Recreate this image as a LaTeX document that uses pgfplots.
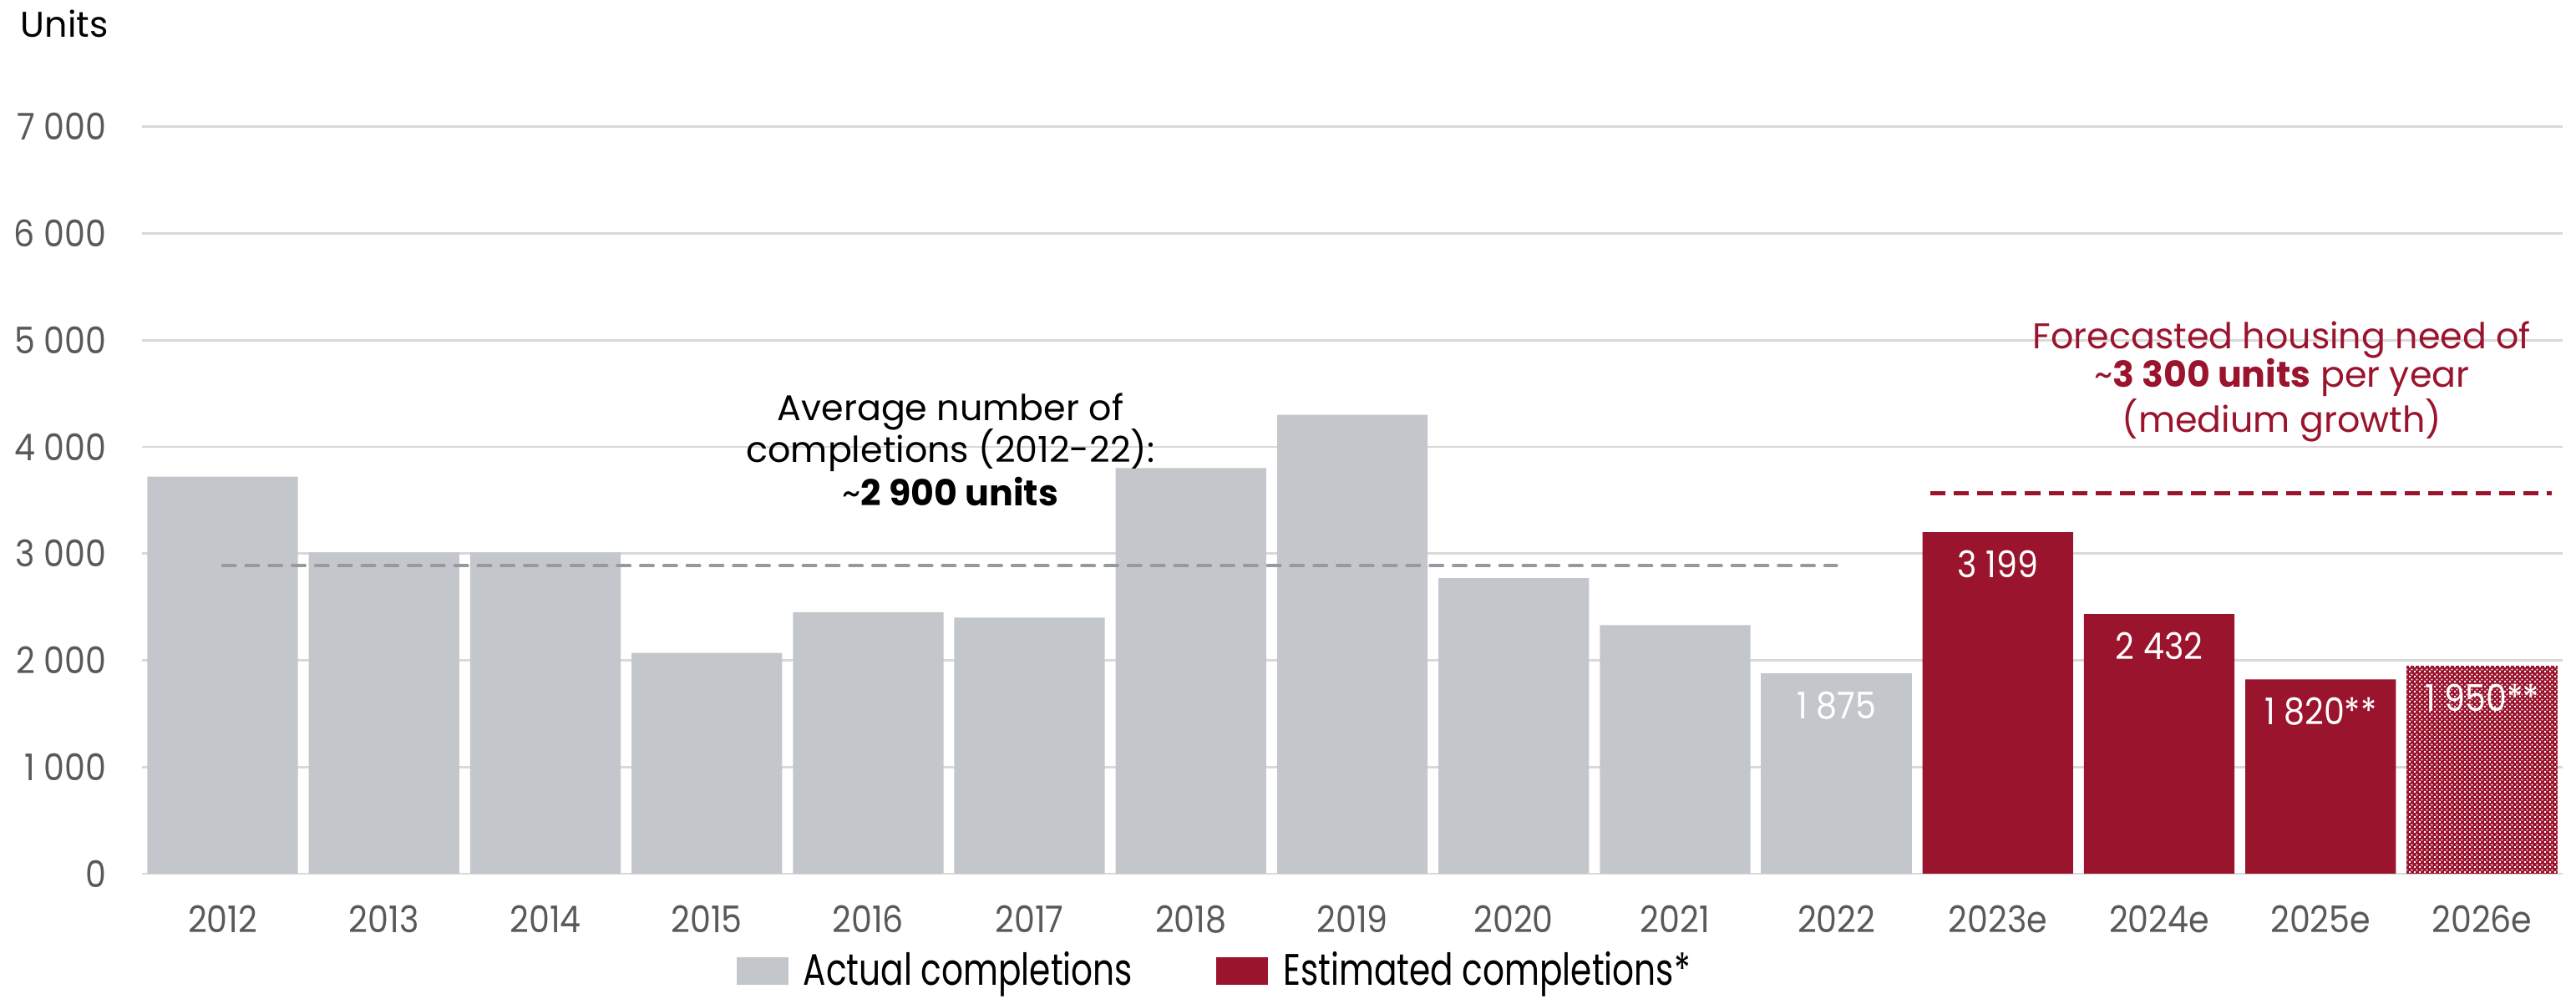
\documentclass[border=0pt]{standalone}
\usepackage{fontspec}
\setmainfont{Poppins}
\newfontfamily\legfont{Poppins}[FakeStretch=0.77]
\newfontfamily\tickfont{Poppins}[FakeStretch=0.9]
\usepackage{pgfplots}
\pgfplotsset{compat=1.18}
\usetikzlibrary{patterns}
\definecolor{bargray}{HTML}{C3C7CB}
\definecolor{barred}{HTML}{9B142D}
\definecolor{gridgray}{HTML}{D9D9D9}
\definecolor{ticktext}{HTML}{595959}
\definecolor{avggray}{HTML}{969A9E}
\pgfdeclarepatternformonly{whitechk}{\pgfpointorigin}{\pgfqpoint{1.4pt}{1.4pt}}{\pgfqpoint{1.4pt}{1.4pt}}{%
  \pgfpathrectangle{\pgfqpoint{0pt}{0pt}}{\pgfqpoint{0.5pt}{0.5pt}}%
  \pgfpathrectangle{\pgfqpoint{0.7pt}{0.7pt}}{\pgfqpoint{0.5pt}{0.5pt}}%
  \pgfusepath{fill}%
}
\begin{document}
\begin{tikzpicture}
\useasboundingbox (-42.5pt,-37.5pt) rectangle (728.5pt,261.5pt);
\begin{axis}[
  at={(0,0)}, anchor=south west,
  scale only axis, width=724.5pt, height=223.6pt,
  xmin=-0.5, xmax=14.5, ymin=0, ymax=7000,
  clip=false,
  ybar, bar width=0.933,
  axis line style={draw=none},
  tick style={draw=none},
  major tick length=0pt,
  ymajorgrids, grid style={color=gridgray, line width=0.7pt},
  ytick={0,1000,2000,3000,4000,5000,6000,7000},
  yticklabels={0,1 000,2 000,3 000,4 000,5 000,6 000,7 000},
  xtick={0,1,2,3,4,5,6,7,8,9,10,11,12,13,14},
  xticklabels={2012,2013,2014,2015,2016,2017,2018,2019,2020,2021,2022,2023e,2024e,2025e,2026e},
  yticklabel style={anchor=east, inner sep=0pt, xshift=-10.5pt, font=\tickfont\fontsize{11}{13}\selectfont, text=ticktext},
  xticklabel style={anchor=base, inner sep=0pt, yshift=-17.75pt, font=\tickfont\fontsize{11}{13}\selectfont, text=ticktext},
  legend columns=-1,
  legend style={at={(0.2453,-0.1300)}, anchor=west, draw=none, fill=none, inner sep=0pt,
    font=\legfont\fontsize{13.2}{15}\selectfont,
    column sep=4.5pt, /tikz/every even column/.append style={column sep=25pt},
    nodes={inner sep=0pt}},
  legend image code/.code={\fill[#1] (0pt,-4.1pt) rectangle (15.5pt,4.1pt);},
]
\addplot[fill=bargray, draw=none, bar shift=0pt] coordinates {(0,3720) (1,3010) (2,3010) (3,2070) (4,2450) (5,2400) (6,3800) (7,4300) (8,2770) (9,2330)};
\addlegendentry{Actual completions}
\addplot[fill=barred, draw=none, bar shift=0pt, point meta=explicit symbolic, nodes near coords,
  every node near coord/.style={anchor=base, yshift=-13.6pt, text=white, inner sep=0pt, font=\tickfont\fontsize{11}{13}\selectfont}]
  coordinates {(11,3199) [3 199] (12,2432) [2 432] (13,1820) [1 820**]};
\addlegendentry{Estimated completions*}
\addplot[fill=bargray, draw=none, bar shift=0pt, forget plot, point meta=explicit symbolic, nodes near coords,
  every node near coord/.style={anchor=base, yshift=-13.6pt, text=white, inner sep=0pt, font=\tickfont\fontsize{11}{13}\selectfont}]
  coordinates {(10,1875) [1 875]};
\addplot[fill=barred, draw=none, bar shift=0pt, forget plot] coordinates {(14,1950)};
\addplot[pattern=whitechk, pattern color=white, draw=none, bar shift=0pt, forget plot, point meta=explicit symbolic, nodes near coords,
  every node near coord/.style={anchor=base, yshift=-13.6pt, text=white, inner sep=0pt, font=\tickfont\fontsize{11}{13}\selectfont}]
  coordinates {(14,1950) [1 950**]};
\addplot[sharp plot, forget plot, color=avggray, line width=1pt, line cap=round, dash pattern=on 3.75pt off 3.2pt] coordinates {(0,2885) (10,2885)};
\addplot[sharp plot, forget plot, color=barred, line width=1.2pt, dash pattern=on 4.6pt off 2.5pt] coordinates {(10.58,3565) (14.43,3565)};
% annotations
\node[anchor=base, inner sep=0pt, font=\fontsize{10.7}{12.5}\selectfont] at (axis cs:4.51,4246) {Average number of};
\node[anchor=base, inner sep=0pt, font=\fontsize{10.7}{12.5}\selectfont] at (axis cs:4.51,3855) {completions (2012-22):};
\node[anchor=base, inner sep=0pt, font=\fontsize{10.7}{12.5}\selectfont] at (axis cs:4.51,3448) {\textasciitilde\textbf{2 900 units}};
\node[anchor=base, inner sep=0pt, text=barred, font=\fontsize{10.7}{12.5}\selectfont] at (axis cs:12.76,4920) {Forecasted housing need of};
\node[anchor=base, inner sep=0pt, text=barred, font=\fontsize{10.7}{12.5}\selectfont] at (axis cs:12.76,4558) {\textasciitilde\textbf{3 300 units} per year};
\node[anchor=base, inner sep=0pt, text=barred, font=\fontsize{10.7}{12.5}\selectfont] at (axis cs:12.76,4136) {(medium growth)};
\node[anchor=base west, inner sep=0pt, font=\fontsize{10.7}{12.5}\selectfont] at ([xshift=-36.5pt,yshift=26.7pt]rel axis cs:0,1) {Units};
\end{axis}
\end{tikzpicture}
\end{document}
